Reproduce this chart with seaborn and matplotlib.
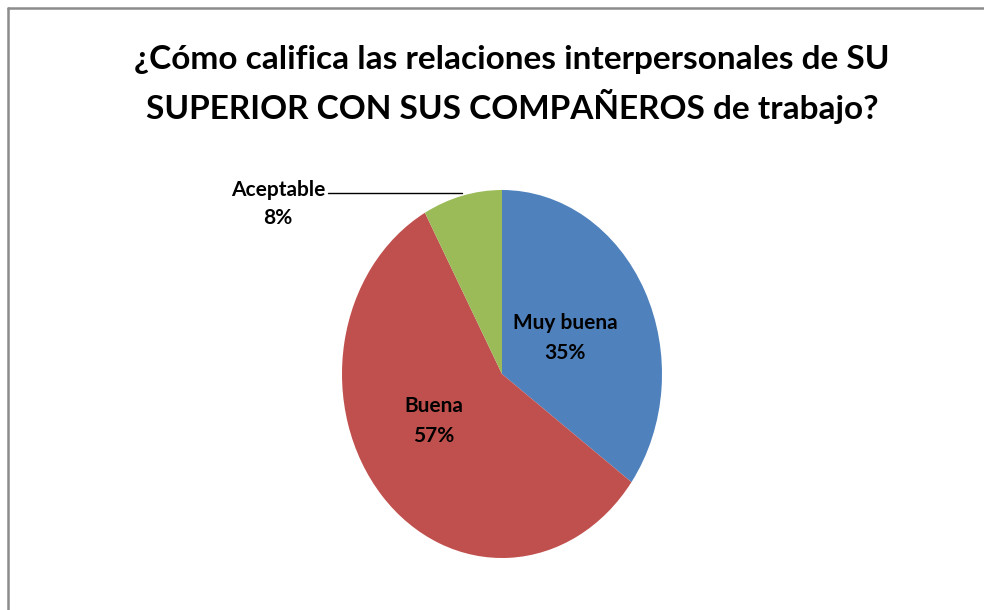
import matplotlib
matplotlib.use("Agg")
import matplotlib.pyplot as plt
from matplotlib.lines import Line2D
import seaborn as sns
import numpy as np

categories = ["Muy buena", "Buena", "Aceptable"]
values = [35, 57, 8]
colors = ["#4F81BD", "#C0504D", "#9BBB59"]
title_lines = ["¿Cómo califica las relaciones interpersonales de SU",
               "SUPERIOR CON SUS COMPAÑEROS de trabajo?"]

sns.set_style("white")
plt.rcParams['font.family'] = ['Lato', 'DejaVu Sans']

W, H = 984, 610
fig = plt.figure(figsize=(W / 100, H / 100), dpi=100)

# pie bounding box in pixels
px0, px1, py0, py1 = 342, 662, 190, 558
ax = fig.add_axes([px0 / W, 1 - py1 / H, (px1 - px0) / W, (py1 - py0) / H])
wedges, _ = ax.pie(values, colors=sns.color_palette(colors), startangle=90,
                   counterclock=False, radius=1.0,
                   wedgeprops=dict(linewidth=0))
ax.set_aspect('auto')
ax.set_xlim(-1, 1)
ax.set_ylim(-1, 1)
ax.axis('off')

def px_to_data(x, y):
    return ((x - px0) / (px1 - px0) * 2 - 1, 1 - (y - py0) / (py1 - py0) * 2)

lab_pos = [(565, 338), (434, 421)]
for (x, y), cat, v in zip(lab_pos, categories[:2], values[:2]):
    dx, dy = px_to_data(x, y)
    ax.text(dx, dy, f"{cat}\n{v}%", ha='center', va='center', fontsize=15,
            fontweight='bold', color='black', linespacing=1.6)

# Aceptable outside label with leader
fig.text(278 / W, 1 - 204 / H, f"{categories[2]}\n{values[2]}%", ha='center', va='center',
         fontsize=15, fontweight='bold', color='black', linespacing=1.55)
fig.add_artist(Line2D([328 / W, 462 / W], [1 - 192.5 / H, 1 - 192.5 / H],
                      color='black', lw=1.0))

fig.text(512 / W, 1 - 60 / H, title_lines[0], ha='center', va='center',
         fontsize=24, fontweight='bold', color='black')
fig.text(512 / W, 1 - 106 / H, title_lines[1], ha='center', va='center',
         fontsize=24, fontweight='bold', color='black')

# chart border (left and top visible)
fig.add_artist(Line2D([7.5 / W, 7.5 / W], [0, 1 - 8 / H], color='#8c8c8c', lw=1.8))
fig.add_artist(Line2D([7.5 / W, 1], [1 - 8 / H, 1 - 8 / H], color='#8c8c8c', lw=1.8))

fig.savefig("out.png", dpi=100)
